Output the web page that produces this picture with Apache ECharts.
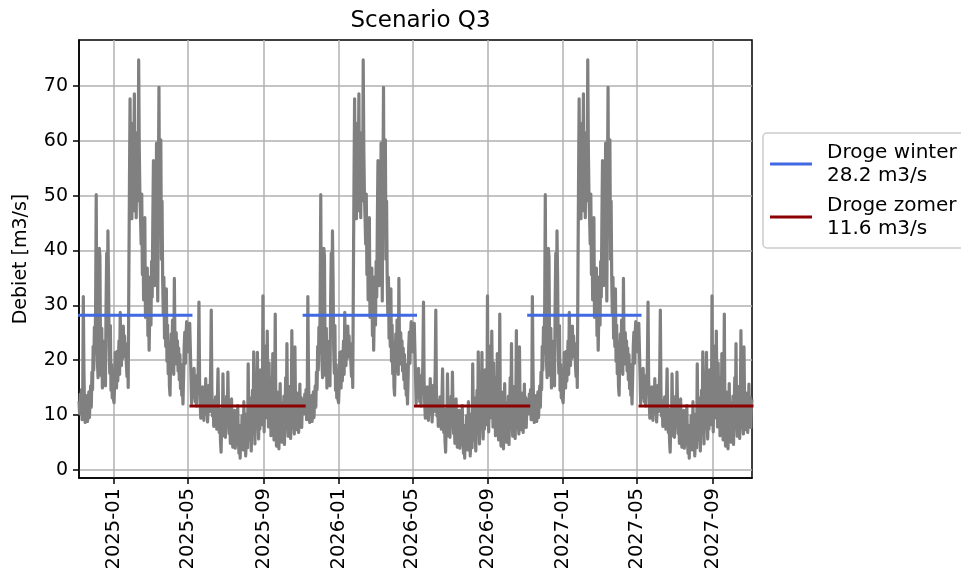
<!DOCTYPE html>
<html>
<head>
<meta charset="utf-8">
<script src="https://cdn.jsdelivr.net/npm/echarts@6/dist/echarts.min.js"></script>
<style>html,body{margin:0;padding:0;background:#fff}#c{width:961px;height:578px}</style>
</head>
<body>
<div id="c"></div>
<script>
// ---- data ----
const titleText = 'Scenario Q3';
const yAxisName = 'Debiet [m3/s]';
const startDate = '2024-11-05';          // first day of the series
const nYears = 3;                         // the yearly pattern repeats 3 times
// daily discharge over one year, starting 5 Nov (m3/s)
const yearFlow = [
 12.5,10.2,13.8,11.0,14.6,9.1,12.0,31.6,18.5,11.2,
 8.6,12.4,10.1,13.5,8.8,11.9,14.2,9.5,12.8,15.3,
 11.4,17.8,14.6,22.5,18.2,26.0,21.3,29.5,50.2,24.6,
 19.5,16.8,27.4,40.4,38.9,21.0,17.2,25.8,14.9,19.6,
 23.4,16.1,21.7,15.3,30.2,39.5,24.8,43.6,35.1,22.0,
 17.6,26.3,14.5,19.2,13.1,16.7,12.8,12.2,15.9,21.4,
 18.3,14.9,21.6,16.2,19.8,23.5,17.4,28.7,22.1,19.0,
 25.6,20.3,26.2,21.5,24.4,20.6,23.0,19.2,17.0,21.8,
 15.0,34.5,52.0,67.7,48.3,59.6,45.8,63.2,50.5,55.9,
 68.6,47.2,57.8,46.0,61.5,52.3,49.1,74.8,58.4,50.0,
 46.0,41.2,50.3,35.6,44.1,31.0,38.5,46.0,27.8,33.4,
 29.2,36.8,24.5,30.1,21.8,28.6,35.2,26.4,38.0,31.5,
 45.3,56.4,40.8,33.6,47.2,37.9,59.6,44.1,30.8,51.5,
 69.8,42.7,55.0,60.2,38.4,49.0,34.6,28.3,35.1,24.0,
 30.2,22.5,33.0,19.8,26.4,17.5,23.1,15.2,13.6,20.4,
 24.8,18.1,27.3,21.0,17.4,34.9,22.6,19.3,25.0,20.1,
 23.5,18.0,22.2,16.4,21.0,14.8,19.2,13.6,15.5,12.0,
 16.8,22.5,25.1,19.4,24.6,27.0,23.8,26.2,21.5,25.9,
 26.7,22.0,17.3,12.1,14.6,16.9,13.2,18.5,15.0,12.4,
 14.8,11.6,17.2,13.9,20.1,30.6,16.3,12.0,9.4,13.5,
 10.8,15.1,12.3,9.0,14.2,11.5,16.6,10.2,13.0,8.7,
 12.1,15.4,10.6,13.8,17.9,29.1,14.5,9.8,12.6,7.9,
 11.2,8.4,13.3,10.0,7.4,12.7,18.4,9.6,6.8,11.0,
 5.2,3.2,8.9,6.1,17.5,10.4,7.0,12.2,5.9,9.3,
 13.4,8.0,17.8,11.5,6.6,9.9,4.8,7.5,12.9,6.2,
 4.1,8.6,5.5,10.8,3.9,7.2,9.5,4.6,11.7,6.0,
 3.0,5.8,2.1,8.1,4.4,9.8,6.5,3.6,12.4,5.1,
 7.9,2.5,6.3,10.2,4.0,19.3,8.8,5.4,13.1,7.0,
 3.4,9.2,14.5,6.7,21.5,10.6,4.7,16.0,8.3,12.8,
 21.4,9.0,5.6,13.7,7.4,18.2,10.1,14.6,8.2,31.7,
 12.5,6.9,15.8,9.4,22.6,11.1,25.3,14.0,7.8,19.5,
 10.3,16.7,6.2,12.9,8.5,21.2,13.6,5.4,10.9,28.4,
 9.1,4.3,14.2,7.0,11.8,3.8,9.6,15.7,6.4,12.3,
 5.0,10.5,7.9,13.4,4.6,11.0,16.8,8.2,23.0,9.7,
 6.1,12.6,8.8,15.2,5.7,10.9,25.4,7.6,13.1,9.2,
 6.5,22.4,11.4,7.3,14.0,8.6,12.2,6.8,10.3,15.6,
 9.0,13.2,7.7,11.5,12.8
];
// seasonal dry-flow levels
const seasonNames = ['Droge winter', 'Droge zomer'];
const seasonValues = [28.2, 11.6];
const seasonColors = ['#4169e1', '#8b0000'];
// season periods [start, end]
const winterPeriods = [['2024-11-06','2025-05-06'],['2025-11-06','2026-05-06'],['2026-11-06','2027-05-06']];
const summerPeriods = [['2024-11-05','2024-11-06'],['2025-05-06','2025-11-06'],['2026-05-06','2026-11-06'],['2027-05-06','2027-11-04']];
// axis ticks
const xTickLabels = ['2025-01','2025-05','2025-09','2026-01','2026-05','2026-09','2027-01','2027-05','2027-09'];
const yTickValues = [0,10,20,30,40,50,60,70];

// ---- build ----
const DAY = 86400000;
function ts(s){ const p = s.split('-').map(Number); return Date.UTC(p[0], p[1]-1, p[2] || 1); }
const t0 = ts(startDate);
const flow = [];
for (let y = 0; y < nYears; y++) {
  for (let i = 0; i < yearFlow.length; i++) flow.push([t0 + (y*yearFlow.length + i)*DAY, yearFlow[i]]);
}
const xMin = flow[0][0], xMax = flow[flow.length-1][0];
let dMin = Infinity, dMax = -Infinity;
flow.forEach(p => { dMin = Math.min(dMin, p[1]); dMax = Math.max(dMax, p[1]); });
const pad = (dMax - dMin) * 0.05;
const yMin = dMin - pad, yMax = dMax + pad;

function segs(periods, v){
  const out = [];
  periods.forEach((p, k) => {
    if (k > 0) out.push([ts(p[0]) - DAY/2, '-']);
    out.push([ts(p[0]), v]); out.push([ts(p[1]), v]);
  });
  return out;
}
const xTicks = xTickLabels.map(s => ts(s));
function fmt(v){ const d = new Date(v); return d.getUTCFullYear() + '-' + String(d.getUTCMonth()+1).padStart(2,'0'); }

const FONT = 'DejaVu Sans';
const chart = echarts.init(document.getElementById('c'), null, {renderer:'canvas'});
chart.setOption({
  animation: false,
  backgroundColor: '#ffffff',
  textStyle: { fontFamily: FONT },
  title: { text: titleText, left: 415.5, top: 5, textAlign: 'center',
    textStyle: { fontFamily: FONT, fontSize: 23, fontWeight: 'normal', color: '#000' } },
  grid: { left: 79, right: 209, top: 40, bottom: 100, show: true, borderColor: '#000', borderWidth: 1.5, backgroundColor: 'transparent' },
  legend: {
    orient: 'vertical', left: 763, top: 133,
    data: seasonNames,
    icon: 'rect', itemWidth: 42, itemHeight: 3, itemGap: 7,
    padding: [8, 8, 8, 7],
    borderColor: '#cccccc', borderWidth: 1.5, borderRadius: 4,
    textStyle: { fontFamily: FONT, fontSize: 20, color: '#000', lineHeight: 23, padding: [0,0,0,10] },
    formatter: function(name){ const k = seasonNames.indexOf(name); return name + '\n' + seasonValues[k].toFixed(1) + ' m3/s'; }
  },
  xAxis: {
    type: 'value', min: xMin, max: xMax, scale: true,
    axisLine: { show: true, onZero: false, lineStyle: { color: '#000', width: 1.5 } },
    axisTick: { show: true, length: 6, lineStyle: { color: '#000', width: 1.5 }, customValues: xTicks },
    axisLabel: { rotate: 90, fontFamily: FONT, fontSize: 19.5, color: '#000', margin: 10, customValues: xTicks, formatter: fmt, hideOverlap: false },
    splitLine: { show: true, lineStyle: { color: '#b0b0b0', width: 1.5 } }
  },
  yAxis: {
    type: 'value', min: yMin, max: yMax,
    name: yAxisName, nameLocation: 'middle', nameGap: 48, nameRotate: 90,
    nameTextStyle: { fontFamily: FONT, fontSize: 19, color: '#000' },
    axisLine: { show: true, onZero: false, lineStyle: { color: '#000', width: 1.5 } },
    axisTick: { show: true, length: 6, lineStyle: { color: '#000', width: 1.5 }, customValues: yTickValues },
    axisLabel: { fontFamily: FONT, fontSize: 19, color: '#000', margin: 11, customValues: yTickValues },
    splitLine: { show: true, lineStyle: { color: '#b0b0b0', width: 1.5 } }
  },
  series: [
    { name: 'Debiet', type: 'line', data: flow, showSymbol: false, symbol: 'none',
      lineStyle: { color: '#808080', width: 3.2, join: 'round' }, z: 2, silent: true },
    { name: seasonNames[0], type: 'line', data: segs(winterPeriods, seasonValues[0]), showSymbol: false, symbol: 'none', connectNulls: false,
      itemStyle: { color: seasonColors[0] }, lineStyle: { color: seasonColors[0], width: 3, cap: 'square' }, z: 3 },
    { name: seasonNames[1], type: 'line', data: segs(summerPeriods, seasonValues[1]), showSymbol: false, symbol: 'none', connectNulls: false,
      itemStyle: { color: seasonColors[1] }, lineStyle: { color: seasonColors[1], width: 3, cap: 'square' }, z: 3 }
  ]
});
</script>
</body>
</html>
